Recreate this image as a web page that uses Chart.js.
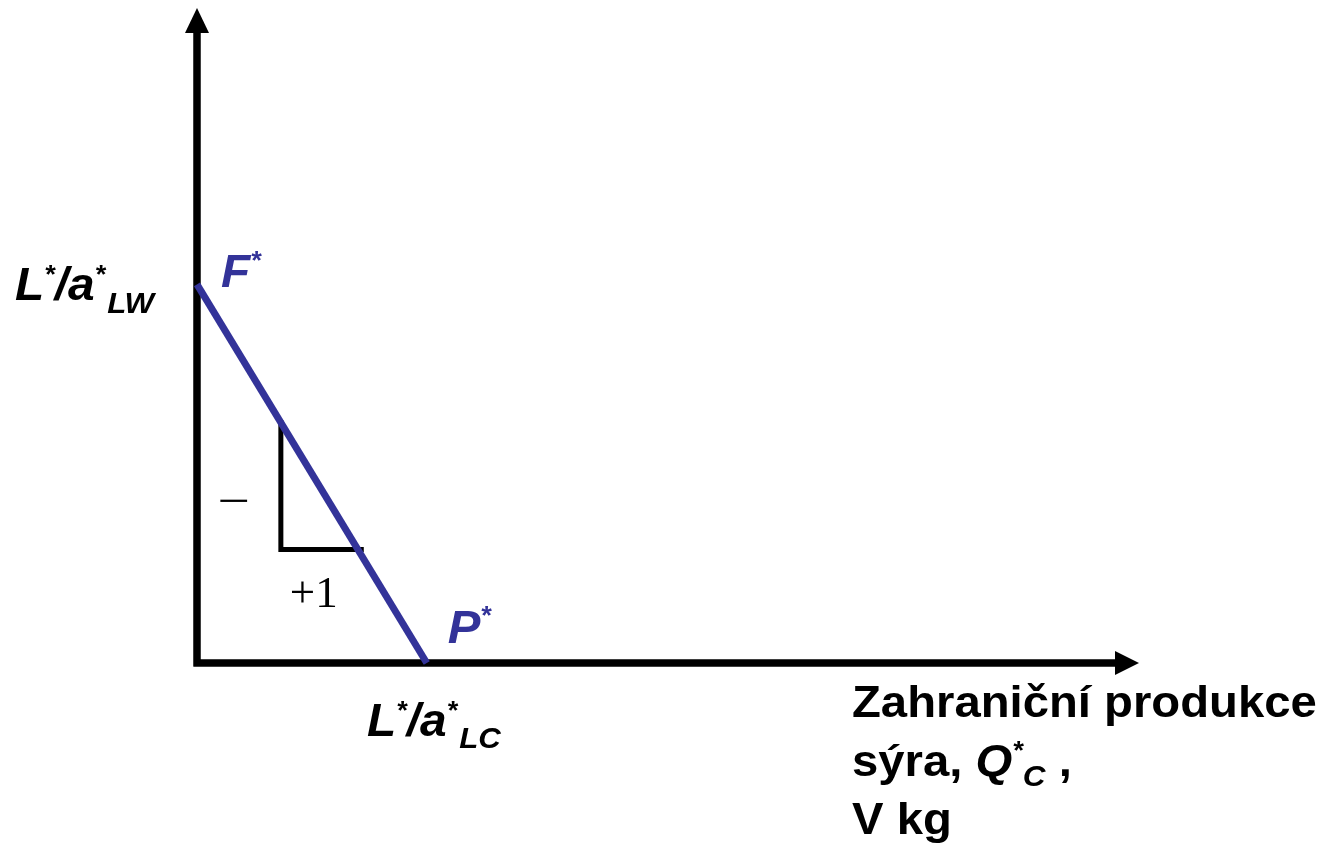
<!DOCTYPE html>
<html>
<head>
<meta charset="utf-8">
<script src="https://cdn.jsdelivr.net/npm/chart.js@4"></script>
<style>
  body { margin: 0; background: #fff; }
  #wrap { width: 1327px; height: 843px; }
</style>
</head>
<body>
<div id="wrap"><canvas id="ppfChart" width="1327" height="843"></canvas></div>
<script>
// foreign production possibility frontier (F* -> P*)
const frontierX = [0, 10];
const frontierY = [10, 0];
// slope triangle: -(a*LC/a*LW) per +1
const triangleX = [3.65, 3.65, 7.15];
const triangleY = [6.35, 3.0, 3.0];
const axisMaxX = 41;
const axisMaxY = 17.3;

const blue = '#333399';
const sans = '"Liberation Sans", Arial, sans-serif';
const serif = '"Liberation Serif", "Times New Roman", serif';

function toPoints(xs, ys) {
    return xs.map((x, i) => ({ x: x, y: ys[i] }));
}

// draw a row of text pieces with super/subscripts, slightly x-stretched like the original slide
function drawRuns(ctx, x, y, runs, color, stretch) {
    ctx.save();
    ctx.translate(x, y);
    ctx.scale(stretch || 1.04, 1);
    ctx.fillStyle = color;
    ctx.textBaseline = 'alphabetic';
    let cx = 0;
    runs.forEach(r => {
        ctx.font = (r.italic ? 'italic ' : '') + (r.bold === false ? '' : 'bold ') + r.size + 'px ' + (r.family || sans);
        cx += r.gap || 0;
        ctx.fillText(r.t, cx, r.dy || 0);
        cx += ctx.measureText(r.t).width;
    });
    ctx.restore();
}

const axesPlugin = {
    id: 'arrowAxes',
    beforeDatasetsDraw(chart) {
        const ctx = chart.ctx;
        const xs = chart.scales.x, ys = chart.scales.y;
        const x0 = xs.getPixelForValue(0), y0 = ys.getPixelForValue(0);
        const xEnd = xs.getPixelForValue(axisMaxX), yEnd = ys.getPixelForValue(axisMaxY);
        ctx.save();
        ctx.strokeStyle = '#000';
        ctx.fillStyle = '#000';
        ctx.lineWidth = 7.5;
        ctx.beginPath();
        ctx.moveTo(x0, y0 + 3.5);
        ctx.lineTo(x0, yEnd + 24);
        ctx.moveTo(x0 - 3.5, y0);
        ctx.lineTo(xEnd - 23, y0);
        ctx.stroke();
        ctx.beginPath();
        ctx.moveTo(x0, yEnd);
        ctx.lineTo(x0 - 12, yEnd + 25);
        ctx.lineTo(x0 + 12, yEnd + 25);
        ctx.closePath();
        ctx.fill();
        ctx.beginPath();
        ctx.moveTo(xEnd, y0);
        ctx.lineTo(xEnd - 24, y0 - 12);
        ctx.lineTo(xEnd - 24, y0 + 12);
        ctx.closePath();
        ctx.fill();
        ctx.restore();
    },
    afterDraw(chart) {
        const ctx = chart.ctx;
        const xs = chart.scales.x, ys = chart.scales.y;
        const fx = xs.getPixelForValue(frontierX[0]), fy = ys.getPixelForValue(frontierY[0]);
        const px = xs.getPixelForValue(frontierX[1]), py = ys.getPixelForValue(frontierY[1]);
        const tx = xs.getPixelForValue(triangleX[0]);
        const tyTop = ys.getPixelForValue(triangleY[0]), tyBot = ys.getPixelForValue(triangleY[1]);

        // y-axis intercept label
        drawRuns(ctx, 15, fy + 16, [
            { t: 'L', size: 46, italic: true },
            { t: '*', size: 26, italic: true, dy: -17 },
            { t: '/a', size: 46, italic: true },
            { t: '*', size: 26, italic: true, dy: -17 },
            { t: 'LW', size: 30, italic: true, dy: 13, gap: 2 }
        ], '#000');
        // x-axis intercept label
        drawRuns(ctx, 367, py + 73, [
            { t: 'L', size: 46, italic: true },
            { t: '*', size: 26, italic: true, dy: -17 },
            { t: '/a', size: 46, italic: true },
            { t: '*', size: 26, italic: true, dy: -17 },
            { t: 'LC', size: 30, italic: true, dy: 12, gap: 2 }
        ], '#000');
        // point labels
        drawRuns(ctx, fx + 24, fy + 3, [
            { t: 'F', size: 46, italic: true },
            { t: '*', size: 26, italic: true, dy: -18 }
        ], blue);
        drawRuns(ctx, px + 21, py - 20, [
            { t: 'P', size: 47, italic: true },
            { t: '*', size: 26, italic: true, dy: -19 }
        ], blue);
        // slope marks
        drawRuns(ctx, tx - 63, (tyTop + tyBot) / 2 + 30, [
            { t: '\u2212', size: 46, bold: false, family: serif }
        ], '#000', 1.25);
        drawRuns(ctx, tx + 9, tyBot + 58, [
            { t: '+1', size: 45, bold: false, family: serif }
        ], '#000', 1.0);
        // axis title
        drawRuns(ctx, 852, 717, [{ t: 'Zahraniční produkce', size: 45 }], '#000', 1.05);
        drawRuns(ctx, 852, 776, [
            { t: 'sýra, ', size: 45 },
            { t: 'Q', size: 45, italic: true },
            { t: '*', size: 26, italic: true, dy: -17 },
            { t: 'C', size: 30, italic: true, dy: 10 },
            { t: ' ,', size: 45 }
        ], '#000', 1.05);
        drawRuns(ctx, 852, 834, [{ t: 'V kg', size: 45 }], '#000', 1.05);
    }
};

const ctx = document.getElementById('ppfChart').getContext('2d');
const ppfChart = new Chart(ctx, {
    type: 'scatter',
    data: {
        datasets: [{
                label: 'Hranice produkčních možností',
                data: toPoints(frontierX, frontierY),
                showLine: true,
                borderColor: blue,
                borderWidth: 7,
                pointRadius: 0,
                fill: false,
                clip: false
            },
            {
                label: 'Sklon',
                data: toPoints(triangleX, triangleY),
                showLine: true,
                borderColor: '#000',
                borderWidth: 5,
                borderCapStyle: 'square',
                pointRadius: 0,
                fill: false,
                clip: false
            }
        ]
    },
    options: {
        responsive: false,
        animation: false,
        layout: {
            padding: { left: 197, right: 188, top: 8, bottom: 180 }
        },
        scales: {
            x: { type: 'linear', min: 0, max: axisMaxX, display: false },
            y: { type: 'linear', min: 0, max: axisMaxY, display: false }
        },
        plugins: {
            legend: { display: false },
            tooltip: { enabled: false }
        }
    },
    plugins: [axesPlugin]
});
</script>
</body>
</html>
